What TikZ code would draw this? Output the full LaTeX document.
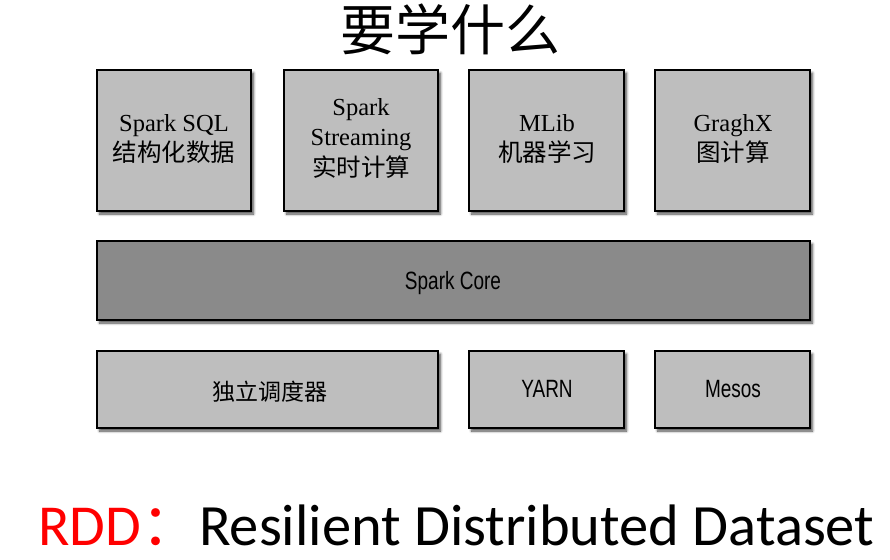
\documentclass[tikz,border=0pt]{standalone}
\usepackage{fontspec}
\usetikzlibrary{shadows.blur}
\setmainfont{Liberation Serif}
\newfontfamily\cjk{Noto Sans CJK SC}
\newfontfamily\narrow[FakeStretch=0.76]{Liberation Sans}
\newfontfamily\calib{Carlito}
\definecolor{boxgray}{RGB}{190,190,190}
\definecolor{coregray}{RGB}{138,138,138}
\definecolor{rddred}{RGB}{255,0,0}
\tikzset{
  layerbox/.style={draw=black, line width=2pt, fill=boxgray,
    blur shadow={shadow xshift=2.5pt, shadow yshift=-3pt, shadow blur steps=6, shadow blur radius=2.5pt, shadow opacity=70},
    inner sep=0pt},
  toptext/.style={align=center, font=\fontsize{24.5}{30.5}\selectfont},
  bottext/.style={font=\narrow\fontsize{25}{28}\selectfont},
}
\begin{document}
\begin{tikzpicture}[x=1pt,y=-1pt]
\useasboundingbox (0,0) rectangle (890,559);
% title
\node (title) at (450,29) {\cjk\fontsize{55}{60}\selectfont 要学什么};
% top row
\draw[layerbox] (97,70) rectangle (251,211);
\node[toptext] (sql) at (174,139) {Spark SQL\\{\cjk 结构化数据}};
\draw[layerbox] (284,70) rectangle (438,211);
\node[toptext] (stream) at (361,138) {Spark\\Streaming\\{\cjk 实时计算}};
\draw[layerbox] (469,70) rectangle (624,211);
\node[toptext] (mlib) at (547,139) {MLib\\{\cjk 机器学习}};
\draw[layerbox] (655,70) rectangle (810,211);
\node[toptext] (graph) at (733,139) {GraghX\\{\cjk 图计算}};
% core
\draw[layerbox, fill=coregray] (97,241) rectangle (810,320);
\node[bottext] (core) at (453,283) {Spark Core};
% bottom row
\draw[layerbox] (97,351) rectangle (438,428);
\node (standalone) at (270,392) {\cjk\fontsize{23}{28}\selectfont 独立调度器};
\draw[layerbox] (469,351) rectangle (624,428);
\node[bottext] (yarn) at (547,389) {YARN};
\draw[layerbox] (655,351) rectangle (810,428);
\node[bottext] (mesos) at (733,389) {Mesos};
% RDD line
\node[anchor=base west, inner sep=0pt, text=rddred] (rdd) at (38,545) {\calib\fontsize{58}{64}\selectfont RDD{\cjk ：}};
\node[anchor=base west, inner sep=0pt] (rddtext) at (199,545) {\calib\fontsize{58.5}{64}\selectfont Resilient Distributed Dataset};
\end{tikzpicture}
\end{document}
